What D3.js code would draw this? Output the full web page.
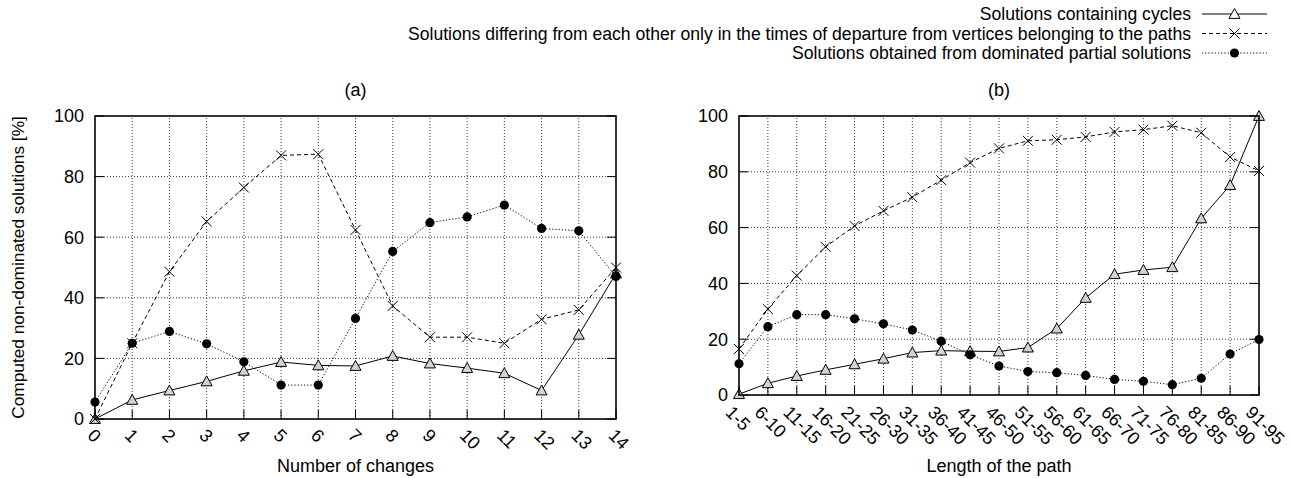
<!DOCTYPE html>
<html>
<head>
<meta charset="utf-8">
<script src="https://cdn.jsdelivr.net/npm/d3@7"></script>
<style>
  html, body { margin: 0; padding: 0; background: #fff; }
  svg { display: block; font-family: "Liberation Sans", Arial, Helvetica, sans-serif; }
</style>
</head>
<body>
<script>
// ---------- data ----------
const changeLabels = ["0","1","2","3","4","5","6","7","8","9","10","11","12","13","14"];
const aCycles    = [0, 6.3, 9.4, 12.4, 15.9, 18.8, 17.7, 17.5, 20.8, 18.3, 16.8, 15.1, 9.4, 27.8, 48];
const aTimes     = [0, 25, 48.6, 65.2, 76.4, 87.0, 87.4, 62.4, 37.3, 27.0, 27.0, 25.0, 32.9, 36.0, 50.0];
const aDominated = [5.6, 25.0, 28.9, 24.8, 18.9, 11.2, 11.2, 33.2, 55.3, 64.8, 66.7, 70.6, 62.9, 62.1, 47.0];

const lengthLabels = ["1-5","6-10","11-15","16-20","21-25","26-30","31-35","36-40","41-45","46-50",
                      "51-55","56-60","61-65","66-70","71-75","76-80","81-85","86-90","91-95"];
const bCycles    = [0.3, 4.2, 6.8, 9.0, 11.0, 13.0, 15.2, 15.9, 15.7, 15.6, 17.0, 23.8, 34.8, 43.3, 44.8, 45.8, 63.3, 75.2, 100];
const bTimes     = [16.5, 30.8, 42.8, 53.1, 60.6, 66.0, 70.9, 77.0, 83.3, 88.4, 91.1, 91.5, 92.5, 94.3, 95.1, 96.5, 94.0, 85.3, 80.3];
const bDominated = [11.2, 24.5, 28.8, 28.8, 27.3, 25.5, 23.3, 19.3, 14.4, 10.4, 8.4, 8.0, 7.0, 5.6, 4.9, 3.7, 6.0, 14.7, 19.9];

const yTicks = [0, 20, 40, 60, 80, 100];
const seriesNames = [
  "Solutions containing cycles",
  "Solutions differing from each other only in the times of departure from vertices belonging to the paths",
  "Solutions obtained from dominated partial solutions"
];
const panelTitles = ["(a)", "(b)"];
const xTitles = ["Number of changes", "Length of the path"];
const yTitle = "Computed non-dominated solutions [%]";

// ---------- setup ----------
const W = 1291, H = 478;
const FS = 18;
const svg = d3.select("body").append("svg").attr("width", W).attr("height", H);

const styles = [
  { dash: null,  marker: "tri" },
  { dash: "4,3", marker: "cross" },
  { dash: "1.2,2", marker: "dot" }
];

function drawMarker(g, type, x, y, legend) {
  if (type === "tri") {
    const s = 5.5;
    g.append("path")
      .attr("d", `M${x},${y - s} L${x + s},${y + s * 0.8} L${x - s},${y + s * 0.8} Z`)
      .attr("fill", legend ? "#fff" : "#d2d2d2").attr("stroke", "#000").attr("stroke-width", 1);
  } else if (type === "cross") {
    const s = 5;
    g.append("path")
      .attr("d", `M${x - s},${y - s} L${x + s},${y + s} M${x - s},${y + s} L${x + s},${y - s}`)
      .attr("stroke", "#000").attr("stroke-width", 1).attr("fill", "none");
  } else {
    g.append("circle").attr("cx", x).attr("cy", y).attr("r", 4.6).attr("fill", "#000");
  }
}

function panel(cfg) {
  const { x, y, labels, series, title, xTitle, labelDx, labelDy } = cfg;
  const g = svg.append("g");
  const [x0, x1] = x.range();
  const [y0, y1] = y.range(); // y0 bottom, y1 top
  const xs = labels.map((d, i) => x(cfg.xVal(d, i)));

  // grid
  g.selectAll(".gx").data(xs.slice(1, -1)).join("line")
    .attr("x1", d => d).attr("x2", d => d).attr("y1", y0).attr("y2", y1)
    .attr("stroke", "#000").attr("stroke-width", 0.8).attr("stroke-dasharray", "1,2");
  g.selectAll(".gy").data(yTicks.slice(1, -1)).join("line")
    .attr("x1", x0).attr("x2", x1).attr("y1", d => y(d)).attr("y2", d => y(d))
    .attr("stroke", "#000").attr("stroke-width", 0.8).attr("stroke-dasharray", "1,2");

  // ticks (inward)
  const TL = 9;
  g.selectAll(".tx").data(xs).join("line")
    .attr("x1", d => d).attr("x2", d => d).attr("y1", y0).attr("y2", y0 - TL)
    .attr("stroke", "#000").attr("stroke-width", 1);
  g.selectAll(".tyl").data(yTicks).join("line")
    .attr("x1", x0).attr("x2", x0 + TL).attr("y1", d => y(d)).attr("y2", d => y(d))
    .attr("stroke", "#000").attr("stroke-width", 1);
  g.selectAll(".tyr").data(yTicks).join("line")
    .attr("x1", x1).attr("x2", x1 - TL).attr("y1", d => y(d)).attr("y2", d => y(d))
    .attr("stroke", "#000").attr("stroke-width", 1);

  // y tick labels
  g.selectAll(".yl").data(yTicks).join("text")
    .attr("x", x0 - 11).attr("y", d => y(d)).attr("dy", "0.35em")
    .attr("text-anchor", "end").attr("font-size", FS).text(d => d);

  // x tick labels rotated
  g.selectAll(".xl").data(labels).join("text")
    .attr("transform", (d, i) => `translate(${xs[i] + labelDx},${y0 + labelDy}) rotate(45)`)
    .attr("dy", "0.35em").attr("text-anchor", "start").attr("font-size", FS).text(d => d);

  // series lines + markers
  series.forEach((vals, si) => {
    const line = d3.line().x((d, i) => xs[i]).y(d => y(d));
    g.append("path").attr("d", line(vals)).attr("fill", "none")
      .attr("stroke", "#000").attr("stroke-width", 1)
      .attr("stroke-dasharray", styles[si].dash);
  });
  series.forEach((vals, si) => {
    vals.forEach((v, i) => drawMarker(g, styles[si].marker, xs[i], y(v), false));
  });

  // border
  g.append("rect").attr("x", x0).attr("y", y1).attr("width", x1 - x0).attr("height", y0 - y1)
    .attr("fill", "none").attr("stroke", "#000").attr("stroke-width", 1.6);

  // titles
  g.append("text").attr("x", (x0 + x1) / 2).attr("y", 96).attr("text-anchor", "middle")
    .attr("font-size", FS).text(title);
  g.append("text").attr("x", (x0 + x1) / 2).attr("y", 472).attr("text-anchor", "middle")
    .attr("font-size", FS).text(xTitle);
  return g;
}

// panel (a)
const xa = d3.scaleLinear().domain([0, 14]).range([95, 616]);
const ya = d3.scaleLinear().domain([0, 100]).range([419, 116]);
panel({
  x: xa, y: ya, labels: changeLabels, xVal: d => +d,
  series: [aCycles, aTimes, aDominated],
  title: panelTitles[0], xTitle: xTitles[0], labelDx: -4, labelDy: 13
});

// panel (b)
const xb = d3.scalePoint().domain(lengthLabels).range([739, 1259]);
const yb = d3.scaleLinear().domain([0, 100]).range([395, 116]);
panel({
  x: xb, y: yb, labels: lengthLabels, xVal: d => d,
  series: [bCycles, bTimes, bDominated],
  title: panelTitles[1], xTitle: xTitles[1], labelDx: -10, labelDy: 14
});

// y axis title
svg.append("text").attr("transform", `translate(24,${(116 + 419) / 2}) rotate(-90)`)
  .attr("text-anchor", "middle").attr("font-size", 17.3).text(yTitle);

// legend
const leg = svg.append("g");
const legRows = [14, 33.5, 53];
seriesNames.forEach((name, i) => {
  const yy = legRows[i];
  leg.append("text").attr("x", 1191).attr("y", yy).attr("dy", "0.35em")
    .attr("text-anchor", "end").attr("font-size", 17.6).text(name);
  leg.append("line").attr("x1", 1202).attr("x2", 1267).attr("y1", yy).attr("y2", yy)
    .attr("stroke", "#000").attr("stroke-width", 1).attr("stroke-dasharray", styles[i].dash);
  drawMarker(leg, styles[i].marker, 1234.5, yy, true);
});
</script>
</body>
</html>
